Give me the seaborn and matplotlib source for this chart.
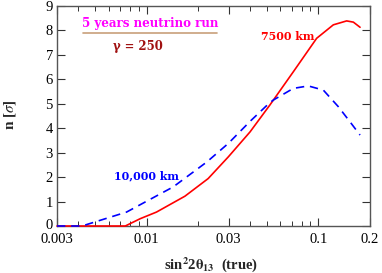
import numpy as np
import pandas as pd
import matplotlib
matplotlib.use("Agg")
import matplotlib.pyplot as plt
import matplotlib.transforms as mtransforms
import seaborn as sns
from matplotlib.ticker import FixedLocator, LogLocator, NullFormatter

# Data
x_7500 = [0.003, 0.0075, 0.00917, 0.0114, 0.0167, 0.0228, 0.0299, 0.040, 0.0522,
          0.0715, 0.0978, 0.1223, 0.1462, 0.160, 0.175]
y_7500 = [0.0, 0.0, 0.30, 0.57, 1.22, 1.94, 2.83, 3.85, 4.95,
          6.31, 7.68, 8.23, 8.39, 8.34, 8.13]
x_10000 = [0.003, 0.0042, 0.00534, 0.00763, 0.00955, 0.01427, 0.0224, 0.0299, 0.040,
           0.0511, 0.0546, 0.0715, 0.0874, 0.1069, 0.1308, 0.153, 0.175]
y_10000 = [0.0, 0.0, 0.23, 0.57, 0.94, 1.60, 2.62, 3.38, 4.28,
           4.99, 5.15, 5.63, 5.73, 5.56, 4.88, 4.26, 3.72]
xticks = [0.003, 0.01, 0.03, 0.1, 0.2]
xtick_labels = ["0.003", "0.01", "0.03", "0.1", "0.2"]
yticks = list(range(0, 10))

df = pd.concat([
    pd.DataFrame({"x": x_7500, "y": y_7500, "series": "7500 km"}),
    pd.DataFrame({"x": x_10000, "y": y_10000, "series": "10,000 km"}),
])

sns.set_theme(style="ticks")
plt.rcParams["font.family"] = ["Liberation Serif", "DejaVu Serif"]
plt.rcParams["mathtext.fontset"] = "stix"

fig = plt.figure(figsize=(3.82, 2.73), dpi=100)
ax = fig.add_axes([57/382, 1-226/273, (370-57)/382, (226-6)/273])

sns.lineplot(data=df, x="x", y="y", hue="series", style="series",
             palette={"7500 km": "#ff0000", "10,000 km": "#0000ff"},
             dashes={"7500 km": "", "10,000 km": (5, 3.5)},
             linewidth=1.2, ax=ax, legend=False, sort=False)
for ln in ax.get_lines():
    ln.set_clip_on(False)
    ln.set_zorder(5)

ax.set_xscale("log")
ax.set_xlim(0.003, 0.2)
ax.set_ylim(0, 9)
ax.xaxis.set_major_locator(FixedLocator(xticks))
ax.set_xticklabels(xtick_labels)
ax.xaxis.set_minor_locator(LogLocator(base=10, subs=np.arange(2, 10)))
ax.xaxis.set_minor_formatter(NullFormatter())
ax.set_yticks(yticks)
ax.tick_params(axis="both", which="both", direction="in", top=True, right=True,
               labelsize=10.5, colors="#333333", labelcolor="black")
ax.tick_params(axis="both", which="major", length=6, width=0.8)
ax.tick_params(axis="x", which="minor", length=3.5, width=0.7)
ax.tick_params(axis="y", pad=3)
ax.tick_params(axis="x", pad=5)
for s in ax.spines.values():
    s.set_color("#555555")
    s.set_linewidth(1.0)

# nudge the "0" y label up slightly so it does not touch "0.003"
fig.canvas.draw()
ylabels = ax.get_yticklabels()
ylabels[0].set_transform(ylabels[0].get_transform() +
                         mtransforms.ScaledTranslation(0, 2/100, fig.dpi_scale_trans))

ax.set_xlabel("")
ax.set_ylabel("")
fig.text(10/382, 1-115/273, r"n [$\sigma$]", rotation=90, ha="center", va="center",
         fontsize=11, fontweight="bold")
fig.text(211/382, 1-265/273, r"sin$^{\mathbf{2}}$2$\mathbf{\theta_{13}}$  (true)", ha="center", va="center",
         fontsize=10.5, fontweight="bold")

ann_font = ["DejaVu Serif"]
ax.text(150/382, 1-24/273, "5 years neutrino run", transform=fig.transFigure, family=ann_font,
        ha="center", va="center", fontsize=8.6, fontweight="bold", color="#ff00ff")
fig.add_artist(plt.Line2D([83/382, 217/382], [1-33/273, 1-33/273], color="#c8a07a", linewidth=1.2))
ax.text(138/382, 1-46/273, "γ = 250", transform=fig.transFigure, family=ann_font,
        ha="center", va="center", fontsize=8.4, fontweight="bold", color="#a01010")
ax.text(288/382, 1-36/273, "7500 km", transform=fig.transFigure, family=ann_font,
        ha="center", va="center", fontsize=7.9, fontweight="bold", color="#ff0000")
ax.text(147/382, 1-176/273, "10,000 km", transform=fig.transFigure, family=ann_font,
        ha="center", va="center", fontsize=7.9, fontweight="bold", color="#0000ff")

fig.savefig("out.png", dpi=100)
